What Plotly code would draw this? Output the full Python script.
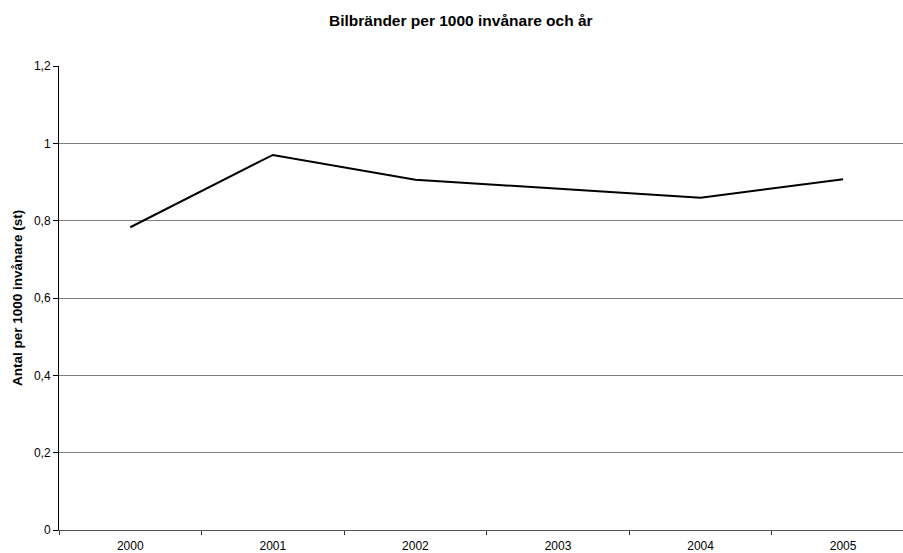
import plotly.graph_objects as go

# Car fires per 1000 inhabitants, by year
years = ["2000", "2001", "2002", "2003", "2004", "2005"]
fires_per_1000 = [0.783, 0.970, 0.906, 0.882, 0.859, 0.907]

y_ticks = [0, 0.2, 0.4, 0.6, 0.8, 1.0, 1.2]
y_tick_labels = ["0", "0,2", "0,4", "0,6", "0,8", "1", "1,2"]

FONT = "Liberation Sans, Arial, sans-serif"

fig = go.Figure(
    go.Scatter(
        x=years,
        y=fires_per_1000,
        mode="lines",
        line=dict(color="black", width=2),
        hoverinfo="x+y",
    )
)

fig.update_layout(
    width=903,
    height=553,
    margin=dict(l=59, r=0, t=66, b=23),
    paper_bgcolor="white",
    plot_bgcolor="white",
    showlegend=False,
    font=dict(family=FONT, size=12, color="black"),
    annotations=[
        dict(
            text="<b>Bilbränder per 1000 invånare och år</b>",
            xref="paper", yref="paper",
            x=0.476, y=1, yshift=46,
            xanchor="center", yanchor="middle",
            showarrow=False,
            font=dict(family=FONT, size=15.5, color="black"),
        ),
        dict(
            text="<b>Antal per 1000 invånare (st)</b>",
            xref="paper", yref="paper",
            x=0, xshift=-42, y=0.5,
            xanchor="center", yanchor="middle",
            textangle=-90,
            showarrow=False,
            font=dict(family=FONT, size=13.5, color="black"),
        ),
    ],
)

fig.update_xaxes(
    type="category",
    range=[-0.5, 5.42],
    tickson="boundaries",
    ticks="outside",
    ticklen=4,
    tickcolor="#333333",
    showline=True,
    linecolor="#555555",
    linewidth=1,
    showgrid=False,
    zeroline=False,
    ticklabelstandoff=5,
    tickfont=dict(family=FONT, size=12, color="black"),
)

fig.update_yaxes(
    range=[0, 1.2],
    tickvals=y_ticks,
    ticktext=y_tick_labels,
    ticks="outside",
    ticklen=5,
    tickcolor="black",
    showline=True,
    linecolor="black",
    linewidth=1,
    showgrid=True,
    gridcolor="#808080",
    gridwidth=1,
    zeroline=False,
    tickfont=dict(family=FONT, size=12, color="black"),
)

fig.write_html("out.html")
